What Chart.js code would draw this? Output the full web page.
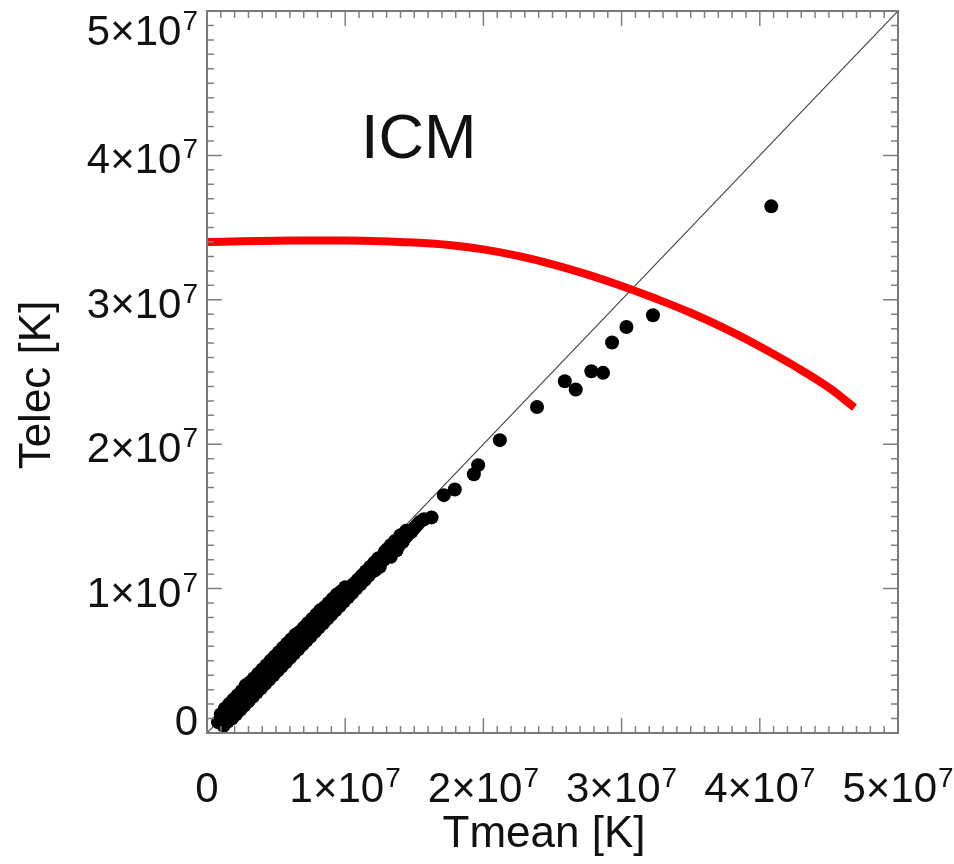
<!DOCTYPE html>
<html>
<head>
<meta charset="utf-8">
<script src="https://cdn.jsdelivr.net/npm/chart.js@4/dist/chart.umd.min.js"></script>
<style>
  html, body { margin: 0; padding: 0; background: #ffffff; }
  #wrap { width: 954px; height: 864px; }
</style>
</head>
<body>
<div id="wrap"><canvas id="c" width="954" height="864"></canvas></div>
<script>
// ---- data (temperatures in K) ----
// dense band, upper row
const bandUpperTmean = [0.10e7,0.13e7,0.16e7,0.19e7,0.22e7,0.25e7,0.28e7,0.31e7,0.34e7,0.37e7,0.40e7,0.43e7,0.46e7,0.49e7,0.52e7,0.55e7,0.58e7,0.61e7,0.64e7,0.67e7,0.70e7,0.73e7,0.76e7,0.79e7,0.82e7,0.85e7,0.88e7,0.91e7,0.94e7,0.97e7,1.00e7,1.03e7,1.06e7,1.09e7,1.12e7,1.15e7,1.18e7,1.21e7,1.24e7,1.30e7,1.33e7,1.36e7,1.40e7,1.44e7];
const bandUpperTelec = [0.13e7,0.17e7,0.20e7,0.23e7,0.26e7,0.29e7,0.33e7,0.35e7,0.38e7,0.41e7,0.44e7,0.47e7,0.50e7,0.53e7,0.56e7,0.59e7,0.62e7,0.65e7,0.68e7,0.70e7,0.73e7,0.76e7,0.79e7,0.82e7,0.85e7,0.87e7,0.90e7,0.93e7,0.96e7,0.98e7,1.01e7,1.00e7,1.03e7,1.06e7,1.09e7,1.12e7,1.15e7,1.18e7,1.21e7,1.27e7,1.30e7,1.33e7,1.37e7,1.40e7];
// dense band, middle row
const bandMidTmean = [0.08e7,0.115e7,0.145e7,0.175e7,0.205e7,0.235e7,0.265e7,0.295e7,0.325e7,0.355e7,0.385e7,0.415e7,0.445e7,0.475e7,0.505e7,0.535e7,0.565e7,0.595e7,0.625e7,0.655e7,0.685e7,0.715e7,0.745e7,0.775e7,0.805e7,0.835e7,0.865e7,0.895e7,0.925e7,0.955e7,0.985e7,1.015e7,1.045e7,1.075e7,1.105e7];
const bandMidTelec = [0.075e7,0.10e7,0.125e7,0.155e7,0.185e7,0.215e7,0.245e7,0.275e7,0.30e7,0.335e7,0.365e7,0.395e7,0.42e7,0.455e7,0.485e7,0.51e7,0.545e7,0.575e7,0.60e7,0.635e7,0.66e7,0.69e7,0.72e7,0.75e7,0.78e7,0.81e7,0.84e7,0.87e7,0.90e7,0.93e7,0.96e7,0.99e7,1.01e7,1.04e7,1.07e7];
// dense band, lower row
const bandLowerTmean = [0.12e7,0.15e7,0.18e7,0.21e7,0.24e7,0.27e7,0.30e7,0.33e7,0.36e7,0.39e7,0.42e7,0.45e7,0.48e7,0.51e7,0.54e7,0.57e7,0.60e7,0.63e7,0.66e7,0.69e7,0.72e7,0.75e7,0.78e7,0.81e7,0.84e7,0.87e7,0.90e7,0.93e7,0.96e7,0.99e7,1.02e7,1.05e7,1.08e7,1.11e7,1.14e7,1.17e7,1.20e7,1.23e7,1.28e7,1.32e7,1.36e7,1.40e7,1.44e7];
const bandLowerTelec = [0.05e7,0.08e7,0.10e7,0.13e7,0.16e7,0.19e7,0.22e7,0.25e7,0.28e7,0.31e7,0.34e7,0.37e7,0.40e7,0.43e7,0.46e7,0.49e7,0.52e7,0.55e7,0.58e7,0.61e7,0.64e7,0.67e7,0.70e7,0.73e7,0.76e7,0.79e7,0.82e7,0.85e7,0.88e7,0.91e7,0.94e7,0.97e7,1.00e7,1.03e7,1.06e7,1.09e7,1.12e7,1.15e7,1.20e7,1.24e7,1.28e7,1.32e7,1.36e7];
// upper end of the band and isolated cells
const sparseTmean = [1.08e7,1.12e7,1.155e7,1.18e7,1.20e7,1.22e7,1.251e7,1.27e7,1.287e7,1.31e7,1.33e7,1.35e7,1.372e7,1.39e7,1.417e7,1.43e7,1.45e7,1.48e7,1.50e7,1.52e7,1.54e7,1.57e7,1.625e7,1.714e7,1.793e7,1.931e7,1.962e7,2.119e7,2.388e7,2.589e7,2.668e7,2.781e7,2.866e7,2.931e7,3.035e7,3.227e7,4.083e7];
const sparseTelec = [1.02e7,1.06e7,1.093e7,1.12e7,1.14e7,1.13e7,1.151e7,1.20e7,1.255e7,1.23e7,1.22e7,1.26e7,1.266e7,1.30e7,1.324e7,1.35e7,1.37e7,1.393e7,1.42e7,1.44e7,1.462e7,1.48e7,1.493e7,1.647e7,1.686e7,1.792e7,1.855e7,2.028e7,2.258e7,2.436e7,2.379e7,2.505e7,2.494e7,2.704e7,2.812e7,2.893e7,3.647e7];
// red model curve
const curveTmean = [0, 0.25e7, 0.5e7, 0.75e7, 1.0e7, 1.25e7, 1.5e7, 1.75e7, 2.0e7, 2.25e7, 2.5e7, 2.75e7, 3.0e7, 3.25e7, 3.5e7, 3.75e7, 4.0e7, 4.25e7, 4.5e7, 4.685e7];
const curveTelec = [3.400e7, 3.405e7, 3.409e7, 3.411e7, 3.411e7, 3.406e7, 3.396e7, 3.379e7, 3.349e7, 3.304e7, 3.246e7, 3.176e7, 3.096e7, 3.007e7, 2.910e7, 2.800e7, 2.677e7, 2.542e7, 2.392e7, 2.253e7];
const diagonal = [0, 5e7];
const tickValues = [0, 1e7, 2e7, 3e7, 4e7, 5e7];
const tickMantissa = ['0', '1×10', '2×10', '3×10', '4×10', '5×10'];
const tickExponent = ['', '7', '7', '7', '7', '7'];
const xTitle = 'Tmean [K]';
const yTitle = 'Telec [K]';
const panelLabel = 'ICM';

const FONT = '"Liberation Sans", Arial, Helvetica, sans-serif';
const MAIN = 42, SUP = 28;

function drawSci(ctx, mant, exp, x, baseline, align) {
  ctx.font = MAIN + 'px ' + FONT;
  const wm = ctx.measureText(mant).width;
  ctx.font = SUP + 'px ' + FONT;
  const we = exp ? ctx.measureText(exp).width + 1 : 0;
  const total = wm + we;
  let left;
  if (align === 'center') left = x - total / 2;
  else if (align === 'right') left = x - total;
  else left = x;
  ctx.textAlign = 'left';
  ctx.textBaseline = 'alphabetic';
  ctx.font = MAIN + 'px ' + FONT;
  ctx.fillText(mant, left, baseline);
  if (exp) {
    ctx.font = SUP + 'px ' + FONT;
    ctx.fillText(exp, left + wm + 1, baseline - 15);
  }
}

const framePlugin = {
  id: 'idlFrame',
  afterDatasetsDraw(chart) {
    const ctx = chart.ctx;
    const xs = chart.scales.x, ys = chart.scales.y;
    const L = xs.left, R = xs.right, T = ys.top, B = ys.bottom;
    ctx.save();
    ctx.strokeStyle = '#808080';
    ctx.lineWidth = 1.5;
    for (let k = 0; k <= 50; k++) {
      const v = k * 1e6;
      const len = (k % 10 === 0) ? 15 : 7;
      const px = xs.getPixelForValue(v);
      const py = ys.getPixelForValue(v);
      ctx.beginPath();
      ctx.moveTo(px, B); ctx.lineTo(px, B - len);
      ctx.moveTo(px, T); ctx.lineTo(px, T + len);
      ctx.moveTo(L, py); ctx.lineTo(L + len, py);
      ctx.moveTo(R, py); ctx.lineTo(R - len, py);
      ctx.stroke();
    }
    ctx.lineWidth = 2;
    ctx.strokeStyle = '#7a7a7a';
    ctx.strokeRect(L, T, R - L, B - T);
    ctx.fillStyle = '#111111';
    tickValues.forEach((v, i) => {
      const px = xs.getPixelForValue(v);
      drawSci(ctx, tickMantissa[i], tickExponent[i], px, 802, 'center');
      const py = ys.getPixelForValue(v);
      let base = py + 18;
      if (i === 0) base = py + 2;
      if (base < 45) base = 45;
      drawSci(ctx, tickMantissa[i], tickExponent[i], 198, base, 'right');
    });
    ctx.font = '44px ' + FONT;
    ctx.textAlign = 'center';
    ctx.textBaseline = 'alphabetic';
    ctx.fillText(xTitle, 544, 847);
    ctx.save();
    ctx.translate(50, 385);
    ctx.rotate(-Math.PI / 2);
    ctx.fillText(yTitle, 0, 0);
    ctx.restore();
    ctx.font = '63px ' + FONT;
    ctx.textAlign = 'left';
    ctx.fillText(panelLabel, 361, 158);
    ctx.restore();
  }
};

function pairs(xs, ys) { return xs.map((t, i) => ({ x: t, y: ys[i] })); }
const scatterData = [].concat(
  pairs(bandUpperTmean, bandUpperTelec),
  pairs(bandMidTmean, bandMidTelec),
  pairs(bandLowerTmean, bandLowerTelec),
  pairs(sparseTmean, sparseTelec)
);
const curveData = pairs(curveTmean, curveTelec);
const diagData = pairs(diagonal, diagonal);

new Chart(document.getElementById('c'), {
  type: 'scatter',
  data: {
    datasets: [
      {
        label: 'model',
        data: curveData,
        showLine: true,
        borderColor: '#ff0000',
        borderWidth: 8,
        pointRadius: 0,
        tension: 0.4,
        fill: false,
        order: 0
      },
      {
        label: 'ICM cells',
        data: scatterData,
        showLine: false,
        pointRadius: 7,
        pointBackgroundColor: '#000000',
        pointBorderColor: '#000000',
        pointBorderWidth: 0,
        order: 1
      },
      {
        label: 'Telec = Tmean',
        data: diagData,
        showLine: true,
        borderColor: '#444444',
        borderWidth: 1.2,
        pointRadius: 0,
        order: 2
      }
    ]
  },
  options: {
    responsive: false,
    animation: false,
    devicePixelRatio: 1,
    layout: { padding: { left: 207, right: 56, top: 11, bottom: 131 } },
    plugins: { legend: { display: false }, tooltip: { enabled: false } },
    scales: {
      x: { type: 'linear', min: 0, max: 5e7, display: false },
      y: { type: 'linear', min: 0, max: 5e7, display: false }
    }
  },
  plugins: [framePlugin]
});
</script>
</body>
</html>
